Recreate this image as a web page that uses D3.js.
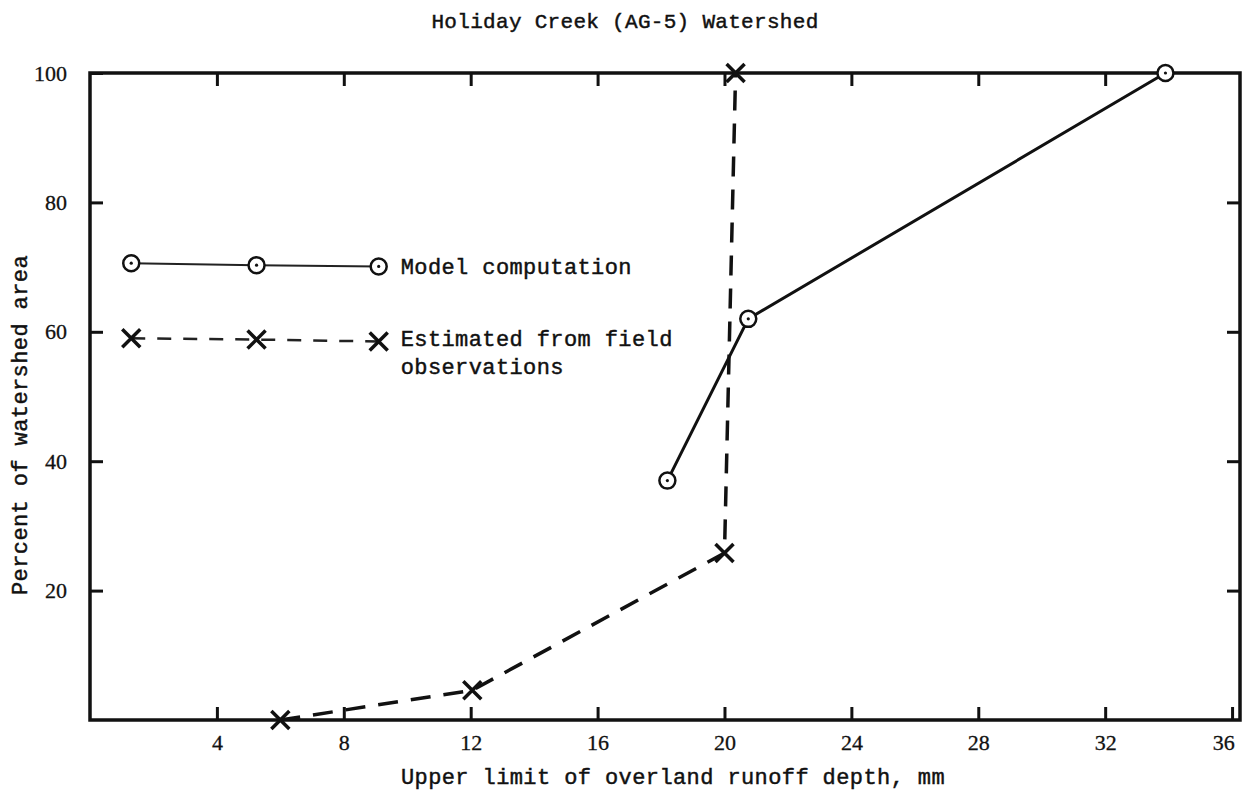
<!DOCTYPE html>
<html>
<head>
<meta charset="utf-8">
<style>
    body { margin: 0; background: white; }
    svg { display: block; }
    .mono { font-family: "Liberation Mono", "Courier New", monospace; font-size: 22px; letter-spacing: 0.4px; fill: #111; stroke: #111; stroke-width: 0.45px; }
</style>
</head>
<body>
<svg id="chart"></svg>
<script src="https://d3js.org/d3.v7.min.js"></script>
<script>
    // model computation (circles, solid line)
    let modelX = [18.2, 20.75, 33.9]
    let modelY = [37, 62, 100]

    // estimated from field observations (crosses, dashed line)
    let fieldX = [6.0, 12.05, 20.0, 20.35]
    let fieldY = [0, 4.6, 25.8, 100]

    let xTicks = [4, 8, 12, 16, 20, 24, 28, 32, 36]
    let yTicks = [20, 40, 60, 80, 100]

    // legend samples, placed in data units
    let legendX = [1.3, 5.25, 9.1]
    let legendModelY = [70.6, 70.3, 70.1]
    let legendFieldY = [59.0, 58.8, 58.5]

    let width = 1252, height = 796
    let margin = { top: 73, right: 12, bottom: 76, left: 90 }

    let svg = d3.select('#chart').attr('width', width).attr('height', height)

    let x = d3.scaleLinear().domain([0, 36.25]).range([margin.left, width - margin.right])
    let y = d3.scaleLinear().domain([0, 100]).range([height - margin.bottom, margin.top])

    let xLeft = x(0), xRight = x.range()[1], yTop = y(100), yBottom = y(0)

    // frame
    svg.append('rect')
        .attr('x', xLeft).attr('y', yTop)
        .attr('width', xRight - xLeft).attr('height', yBottom - yTop)
        .attr('fill', 'none').attr('stroke', '#111').attr('stroke-width', 3.5)

    // axes with inward ticks
    let tickLen = 13
    let axB = svg.append('g').attr('transform', `translate(0,${yBottom})`)
        .call(d3.axisBottom(x).tickValues(xTicks).tickSize(-tickLen).tickPadding(tickLen + 11).tickFormat(d3.format('d')))
    svg.append('g').attr('transform', `translate(0,${yTop})`)
        .call(d3.axisTop(x).tickValues(xTicks.slice(0, -1)).tickSize(-tickLen).tickFormat(''))
    let axL = svg.append('g').attr('transform', `translate(${xLeft},0)`)
        .call(d3.axisLeft(y).tickValues(yTicks).tickSize(-tickLen).tickPadding(tickLen + 10).tickFormat(d3.format('d')))
    svg.append('g').attr('transform', `translate(${xRight},0)`)
        .call(d3.axisRight(y).tickValues(yTicks.slice(0, -1)).tickSize(-tickLen).tickFormat(''))

    svg.selectAll('.domain').remove()
    svg.selectAll('.tick line').attr('stroke', '#111').attr('stroke-width', 3)
    svg.selectAll('.tick text')
        .style('font-family', '"Liberation Serif", serif')
        .style('font-size', '22px')
        .attr('fill', '#111').attr('stroke', '#111').attr('stroke-width', 0.3)
    axB.selectAll('.tick text').attr('dy', '0.25em')
    axB.selectAll('.tick').filter(d => d === 36).select('text').attr('dx', '-0.4em')

    let line = d3.line().x(d => x(d[0])).y(d => y(d[1]))

    let model = d3.zip(modelX, modelY)
    let field = d3.zip(fieldX, fieldY)

    // estimated line
    svg.append('path').datum(field)
        .attr('d', line)
        .attr('fill', 'none').attr('stroke', '#111').attr('stroke-width', 3.5)
        .attr('stroke-dasharray', '20,13')

    // model line
    svg.append('path').datum(model)
        .attr('d', line)
        .attr('fill', 'none').attr('stroke', '#111').attr('stroke-width', 3)

    function drawCircles(pts, r) {
        let g = svg.append('g')
        g.selectAll('circle.o').data(pts).enter().append('circle')
            .attr('cx', d => x(d[0])).attr('cy', d => y(d[1])).attr('r', r)
            .attr('fill', 'white').attr('stroke', '#111').attr('stroke-width', 2.5)
        g.selectAll('circle.dot').data(pts).enter().append('circle')
            .attr('cx', d => x(d[0])).attr('cy', d => y(d[1])).attr('r', 1.6)
            .attr('fill', '#111')
    }

    function drawCrosses(pts, s) {
        svg.append('g').selectAll('path').data(pts).enter().append('path')
            .attr('d', d => {
                let cx = x(d[0]), cy = y(d[1])
                return `M${cx - s},${cy - s}L${cx + s},${cy + s}M${cx - s},${cy + s}L${cx + s},${cy - s}`
            })
            .attr('stroke', '#111').attr('stroke-width', 3.5).attr('fill', 'none')
    }

    drawCircles(model, 8)
    drawCrosses(field, 9)

    // legend
    let legModel = d3.zip(legendX, legendModelY)
    let legField = d3.zip(legendX, legendFieldY)
    svg.append('path').datum(legModel).attr('d', line)
        .attr('fill', 'none').attr('stroke', '#222').attr('stroke-width', 2)
    svg.append('path').datum(legField).attr('d', line)
        .attr('fill', 'none').attr('stroke', '#222').attr('stroke-width', 2.5)
        .attr('stroke-dasharray', '14,12')
    drawCircles(legModel, 8)
    drawCrosses(legField, 9)

    let textX = x(legendX[2]) + 22
    svg.append('text').attr('class', 'mono').attr('x', textX).attr('y', y(legendModelY[2]) + 8)
        .text('Model computation')
    svg.append('text').attr('class', 'mono').attr('x', textX).attr('y', y(legendFieldY[2]) + 4)
        .text('Estimated from field')
    svg.append('text').attr('class', 'mono').attr('x', textX).attr('y', y(legendFieldY[2]) + 32)
        .text('observations')

    // title and axis labels
    svg.append('text').attr('class', 'mono')
        .attr('x', 625).attr('y', 28).attr('text-anchor', 'middle')
        .style('font-size', '21px').style('letter-spacing', '0.3px')
        .text('Holiday Creek (AG-5) Watershed')

    svg.append('text').attr('class', 'mono')
        .attr('x', 673).attr('y', 784).attr('text-anchor', 'middle')
        .text('Upper limit of overland runoff depth, mm')

    svg.append('text').attr('class', 'mono')
        .attr('transform', 'translate(27,425) rotate(-90)')
        .attr('text-anchor', 'middle')
        .text('Percent of watershed area')
</script>
</body>
</html>
